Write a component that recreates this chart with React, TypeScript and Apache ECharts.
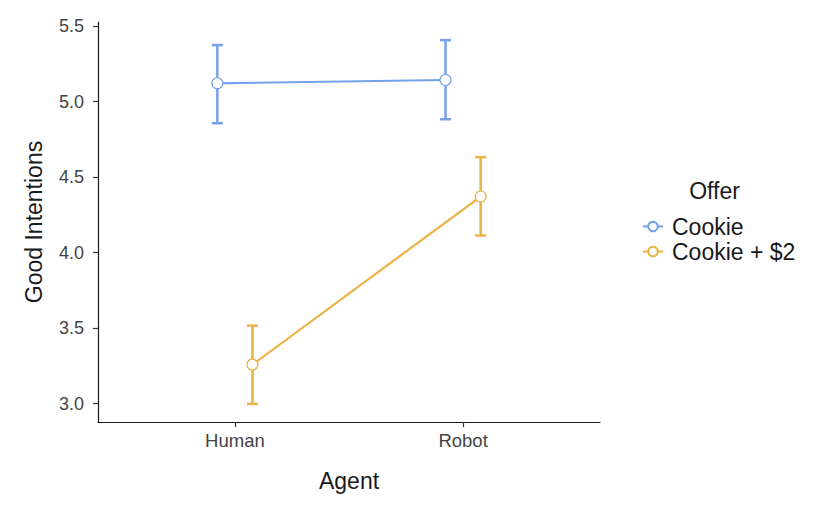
import React, { useEffect, useRef } from "react";
import * as echarts from "echarts";

const agents = ["Human", "Robot"];
const offers = ["Cookie", "Cookie + $2"];
const colors = ["#75A1EA", "#EBB244"];
const means = [
  [5.121, 5.143],
  [3.258, 4.371],
];
const lower = [
  [4.857, 4.883],
  [2.998, 4.113],
];
const upper = [
  [5.374, 5.407],
  [3.516, 4.632],
];
const dodge = [-0.077, 0.077];
const yTicks = [3.0, 3.5, 4.0, 4.5, 5.0, 5.5];

const FONT = "'Liberation Sans', Arial, Helvetica, sans-serif";

export default function App() {
  const ref = useRef<HTMLDivElement>(null);
  useEffect(() => {
    if (!ref.current) return;
    document.body.style.margin = "0";
    const chart = echarts.init(ref.current, null, { renderer: "svg" });
    const series: any[] = [];
    offers.forEach((offer, i) => {
      const errData = agents.map((_, j) => [j + 1 + dodge[i], lower[i][j], upper[i][j]]);
      series.push({
        type: "custom",
        name: offer + " err",
        z: 2,
        data: errData,
        encode: { x: 0, y: [1, 2] },
        renderItem: (params: any, api: any) => {
          const x = api.value(0);
          const lo = api.coord([x, api.value(1)]);
          const hi = api.coord([x, api.value(2)]);
          const w = 5.5;
          const style = { stroke: colors[i], lineWidth: 2.5 };
          return {
            type: "group",
            children: [
              { type: "line", shape: { x1: lo[0], y1: lo[1], x2: hi[0], y2: hi[1] }, style },
              { type: "line", shape: { x1: lo[0] - w, y1: lo[1], x2: lo[0] + w, y2: lo[1] }, style },
              { type: "line", shape: { x1: hi[0] - w, y1: hi[1], x2: hi[0] + w, y2: hi[1] }, style },
            ],
          };
        },
      });
      series.push({
        type: "line",
        name: offer,
        z: 3,
        data: agents.map((_, j) => [j + 1 + dodge[i], means[i][j]]),
        symbol: "circle",
        symbolSize: 11,
        lineStyle: { color: colors[i], width: 2.2 },
        itemStyle: { color: "#ffffff", borderColor: colors[i], borderWidth: 1.2 },
        color: colors[i],
      });
    });

    chart.setOption({
      animation: false,
      textStyle: { fontFamily: FONT },
      grid: { left: 98, right: 230, top: 22, bottom: 90 },
      xAxis: {
        type: "value",
        min: 0.4,
        max: 2.6,
        name: "Agent",
        nameLocation: "middle",
        nameGap: 47,
        nameTextStyle: { fontSize: 23, color: "#1a1a1a", fontFamily: FONT },
        axisLine: { show: true, lineStyle: { color: "#1a1a1a", width: 1.2 } },
        axisTick: { show: true, length: 5, lineStyle: { color: "#333", width: 1.2 }, customValues: [1, 2] },
        axisLabel: {
          customValues: [1, 2],
          formatter: (v: number) => agents[Math.round(v) - 1] || "",
          fontSize: 18.5,
          color: "#444",
          margin: 9,
          fontFamily: FONT,
        },
        splitLine: { show: false },
      },
      yAxis: {
        type: "value",
        min: 2.878,
        max: 5.527,
        name: "Good Intentions",
        nameLocation: "middle",
        nameRotate: 90,
        nameGap: 53,
        nameTextStyle: { fontSize: 23, color: "#1a1a1a", fontFamily: FONT },
        axisLine: { show: true, lineStyle: { color: "#1a1a1a", width: 1.2 } },
        axisTick: { show: true, length: 5, lineStyle: { color: "#333", width: 1.2 }, customValues: yTicks },
        axisLabel: {
          customValues: yTicks,
          formatter: (v: number) => v.toFixed(1),
          fontSize: 18,
          color: "#444",
          margin: 14,
          fontFamily: FONT,
        },
        splitLine: { show: false },
      },
      legend: {
        orient: "vertical",
        left: 637,
        top: 210,
        itemWidth: 20,
        itemHeight: 12,
        itemGap: 2,
        data: offers,
        textStyle: { fontSize: 23, color: "#1a1a1a", fontFamily: FONT, padding: [0, 0, 0, 4] },
      },
      graphic: [
        {
          type: "text",
          x: 714.5,
          y: 191,
          style: {
            text: "Offer",
            fontSize: 23,
            fill: "#1a1a1a",
            fontFamily: FONT,
            textAlign: "center",
            textVerticalAlign: "middle",
          },
        },
      ],
      series,
    });
    return () => chart.dispose();
  }, []);
  return <div ref={ref} style={{ width: 830, height: 512 }} />;
}
